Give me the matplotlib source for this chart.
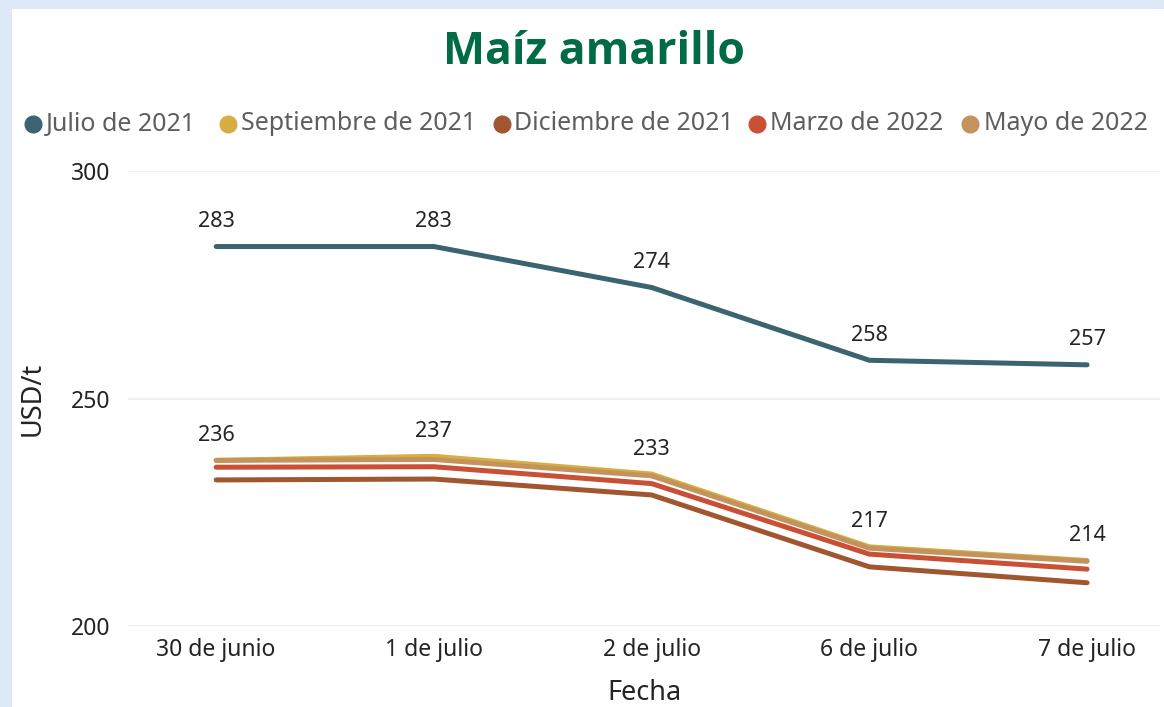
import matplotlib.pyplot as plt
from matplotlib.lines import Line2D
from matplotlib.patches import Rectangle

plt.rcParams['font.family'] = ['Noto Sans', 'DejaVu Sans']

# ---------------- datos ----------------
fechas = ['30 de junio', '1 de julio', '2 de julio', '6 de julio', '7 de julio']
series = ['Julio de 2021', 'Septiembre de 2021', 'Diciembre de 2021',
          'Marzo de 2022', 'Mayo de 2022']
julio_2021 = [283.4, 283.4, 274.4, 258.4, 257.4]
septiembre_2021 = [236.4, 237.3, 233.4, 217.4, 214.4]
diciembre_2021 = [232.1, 232.3, 228.8, 213.0, 209.5]
marzo_2022 = [234.9, 235.0, 231.3, 215.8, 212.5]
mayo_2022 = [236.4, 236.6, 233.0, 217.1, 214.2]
colores = ['#3B6470', '#D6AE42', '#A0572F', '#C94F35', '#C4935C']
valores = [julio_2021, septiembre_2021, diciembre_2021, marzo_2022, mayo_2022]
con_etiquetas = [True, True, False, False, False]
yticks = [200, 250, 300]

# ---------------- figura ----------------
W, H = 1164, 707
fig = plt.figure(figsize=(W / 100, H / 100), dpi=100)
fig.patch.set_facecolor('#DEE9F8')
fig.patches.append(Rectangle((12 / W, 0), 1, 1 - 9 / H, transform=fig.transFigure,
                             facecolor='white', edgecolor='none', zorder=-5))

ax = fig.add_axes([128 / W, 1 - 626 / H, (1160 - 128) / W, (626 - 171) / H])
ax.set_zorder(2)
ax.set_facecolor('white')
x = list(range(len(fechas)))
for nombre, vals, c, lab in zip(series, valores, colores, con_etiquetas):
    ax.plot(x, vals, color=c, lw=3.6, solid_capstyle='round', solid_joinstyle='round',
            clip_on=False, zorder=3)
    if lab:
        for xi, v in zip(x, vals):
            ax.annotate(f'{v:.0f}', (xi, v), xytext=(0, 18), textcoords='offset points',
                        ha='center', va='center', fontsize=15.5, color='#252423', zorder=5)

ax.set_xlim(-0.405, 4.335)
ax.set_ylim(200, 300)
ax.set_yticks(yticks)
ax.set_xticks(x)
ax.set_xticklabels(fechas)
ax.grid(axis='y', color='#EDEDED', lw=1.2, zorder=0)
for s in ax.spines.values():
    s.set_visible(False)
ax.tick_params(axis='both', length=0, labelsize=16.5, labelcolor='#252423')
ax.tick_params(axis='y', pad=13)
ax.tick_params(axis='x', pad=9)
ax.set_ylabel('USD/t', fontsize=19.5, color='#252423', labelpad=17)
ax.set_xlabel('Fecha', fontsize=19.5, color='#252423', labelpad=12)

fig.text(594 / W, 1 - 52 / H, 'Maíz amarillo', ha='center', va='center',
         fontsize=32, fontweight='bold', color='#006B45', family='Open Sans')

# leyenda manual en una fila
ley_marcador_x = [33, 228, 502, 757, 970]
ley_texto_x = [46, 241, 514, 770, 984]
ley_y = 1 - 124 / H
for mx, tx, nombre, c in zip(ley_marcador_x, ley_texto_x, series, colores):
    fig.add_artist(Line2D([mx / W], [ley_y], marker='o', markersize=12, color=c,
                          ls='none', transform=fig.transFigure))
    fig.text(tx / W, ley_y, nombre, ha='left', va='center', fontsize=18,
             color='#605E5C')

fig.savefig('out.png', dpi=100, facecolor=fig.get_facecolor())
